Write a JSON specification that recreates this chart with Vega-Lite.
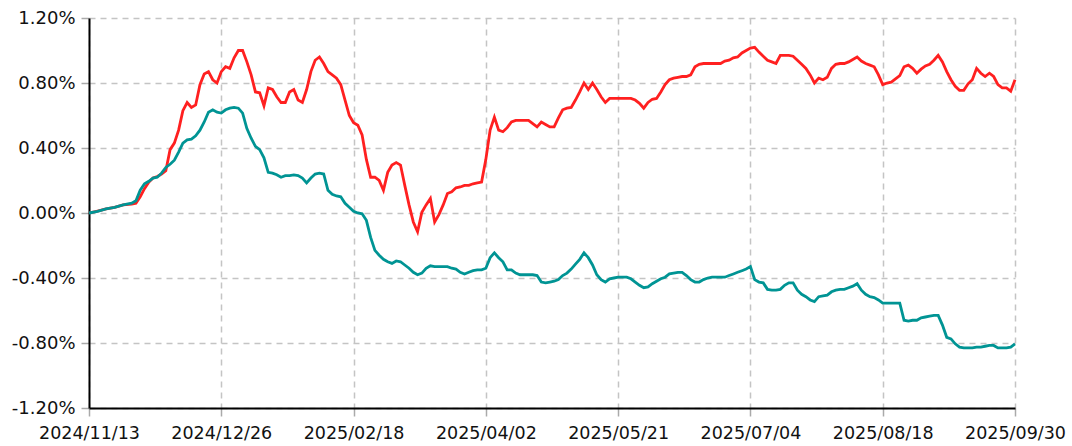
{
  "$schema": "https://vega.github.io/schema/vega-lite/v6.json",
  "width": 926,
  "height": 390,
  "autosize": {"type": "none"},
  "padding": {"left": 89, "top": 18, "right": 57, "bottom": 38},
  "background": "white",
  "config": {"view": {"stroke": null}},
  "data": {"values": [
{"i":0,"r":0,"t":0},{"i":2,"r":0.012,"t":0.01},{"i":4,"r":0.025,"t":0.025},{"i":6,"r":0.035,"t":0.035},{"i":8,"r":0.05,"t":0.05},{"i":10,"r":0.055,"t":0.06},
{"i":11,"r":0.06,"t":0.075},{"i":12,"r":0.1,"t":0.14},{"i":13,"r":0.15,"t":0.18},{"i":14,"r":0.19,"t":0.195},{"i":15,"r":0.215,"t":0.215},{"i":16,"r":0.225,"t":0.22},
{"i":17,"r":0.24,"t":0.245},{"i":18,"r":0.26,"t":0.28},{"i":19,"r":0.39,"t":0.3},{"i":20,"r":0.43,"t":0.325},{"i":21,"r":0.51,"t":0.375},{"i":22,"r":0.63,"t":0.43},
{"i":23,"r":0.68,"t":0.45},{"i":24,"r":0.65,"t":0.455},{"i":25,"r":0.665,"t":0.475},{"i":26,"r":0.79,"t":0.51},{"i":27,"r":0.855,"t":0.56},{"i":28,"r":0.87,"t":0.62},
{"i":29,"r":0.82,"t":0.635},{"i":30,"r":0.8,"t":0.62},{"i":31,"r":0.87,"t":0.615},{"i":32,"r":0.9,"t":0.635},{"i":33,"r":0.89,"t":0.645},{"i":34,"r":0.955,"t":0.65},
{"i":35,"r":1.0,"t":0.645},{"i":36,"r":1.0,"t":0.615},{"i":37,"r":0.93,"t":0.52},{"i":38,"r":0.85,"t":0.46},{"i":39,"r":0.745,"t":0.41},{"i":40,"r":0.74,"t":0.39},
{"i":41,"r":0.66,"t":0.34},{"i":42,"r":0.77,"t":0.25},{"i":43,"r":0.76,"t":0.245},{"i":44,"r":0.715,"t":0.235},{"i":45,"r":0.68,"t":0.22},{"i":46,"r":0.68,"t":0.23},
{"i":47,"r":0.745,"t":0.23},{"i":48,"r":0.76,"t":0.235},{"i":49,"r":0.695,"t":0.23},{"i":50,"r":0.68,"t":0.215},{"i":51,"r":0.76,"t":0.185},{"i":52,"r":0.87,"t":0.215},
{"i":53,"r":0.94,"t":0.24},{"i":54,"r":0.96,"t":0.245},{"i":55,"r":0.92,"t":0.24},{"i":56,"r":0.87,"t":0.14},{"i":57,"r":0.85,"t":0.115},{"i":58,"r":0.83,"t":0.105},
{"i":59,"r":0.79,"t":0.1},{"i":60,"r":0.695,"t":0.06},{"i":61,"r":0.6,"t":0.035},{"i":62,"r":0.555,"t":0.01},{"i":63,"r":0.54,"t":0.0},{"i":64,"r":0.48,"t":-0.005},
{"i":65,"r":0.33,"t":-0.045},{"i":66,"r":0.22,"t":-0.15},{"i":67,"r":0.22,"t":-0.23},{"i":68,"r":0.2,"t":-0.26},{"i":69,"r":0.14,"t":-0.285},{"i":70,"r":0.25,"t":-0.3},
{"i":71,"r":0.295,"t":-0.31},{"i":72,"r":0.31,"t":-0.295},{"i":73,"r":0.295,"t":-0.3},{"i":74,"r":0.17,"t":-0.32},{"i":75,"r":0.05,"t":-0.34},{"i":76,"r":-0.055,"t":-0.365},
{"i":77,"r":-0.115,"t":-0.38},{"i":78,"r":0.005,"t":-0.37},{"i":79,"r":0.05,"t":-0.34},{"i":80,"r":0.09,"t":-0.325},{"i":81,"r":-0.055,"t":-0.33},{"i":82,"r":-0.01,"t":-0.33},
{"i":83,"r":0.05,"t":-0.33},{"i":84,"r":0.12,"t":-0.33},{"i":85,"r":0.13,"t":-0.34},{"i":86,"r":0.155,"t":-0.345},{"i":87,"r":0.16,"t":-0.365},{"i":88,"r":0.17,"t":-0.375},
{"i":89,"r":0.17,"t":-0.365},{"i":90,"r":0.18,"t":-0.355},{"i":91,"r":0.185,"t":-0.35},{"i":92,"r":0.19,"t":-0.35},{"i":93,"r":0.33,"t":-0.34},{"i":94,"r":0.51,"t":-0.275},
{"i":95,"r":0.59,"t":-0.245},{"i":96,"r":0.51,"t":-0.275},{"i":97,"r":0.5,"t":-0.3},{"i":98,"r":0.525,"t":-0.35},{"i":99,"r":0.56,"t":-0.35},{"i":100,"r":0.57,"t":-0.37},
{"i":101,"r":0.57,"t":-0.38},{"i":102,"r":0.57,"t":-0.38},{"i":103,"r":0.57,"t":-0.38},{"i":104,"r":0.55,"t":-0.38},{"i":105,"r":0.53,"t":-0.385},{"i":106,"r":0.56,"t":-0.425},
{"i":107,"r":0.545,"t":-0.43},{"i":108,"r":0.53,"t":-0.425},{"i":109,"r":0.53,"t":-0.42},{"i":110,"r":0.585,"t":-0.41},{"i":111,"r":0.635,"t":-0.385},{"i":112,"r":0.645,"t":-0.37},
{"i":113,"r":0.65,"t":-0.345},{"i":114,"r":0.695,"t":-0.315},{"i":115,"r":0.745,"t":-0.285},{"i":116,"r":0.8,"t":-0.245},{"i":117,"r":0.76,"t":-0.275},{"i":118,"r":0.8,"t":-0.32},
{"i":119,"r":0.76,"t":-0.38},{"i":120,"r":0.715,"t":-0.41},{"i":121,"r":0.68,"t":-0.425},{"i":122,"r":0.705,"t":-0.405},{"i":123,"r":0.705,"t":-0.4},{"i":124,"r":0.705,"t":-0.395},
{"i":125,"r":0.705,"t":-0.395},{"i":126,"r":0.705,"t":-0.395},{"i":127,"r":0.705,"t":-0.405},{"i":128,"r":0.695,"t":-0.425},{"i":129,"r":0.675,"t":-0.445},{"i":130,"r":0.645,"t":-0.46},
{"i":131,"r":0.68,"t":-0.455},{"i":132,"r":0.7,"t":-0.435},{"i":133,"r":0.705,"t":-0.42},{"i":134,"r":0.745,"t":-0.405},{"i":135,"r":0.79,"t":-0.395},{"i":136,"r":0.82,"t":-0.375},
{"i":137,"r":0.83,"t":-0.37},{"i":138,"r":0.835,"t":-0.365},{"i":139,"r":0.84,"t":-0.365},{"i":140,"r":0.84,"t":-0.385},{"i":141,"r":0.85,"t":-0.41},{"i":142,"r":0.9,"t":-0.425},
{"i":143,"r":0.915,"t":-0.425},{"i":144,"r":0.92,"t":-0.41},{"i":145,"r":0.92,"t":-0.4},{"i":146,"r":0.92,"t":-0.395},{"i":147,"r":0.92,"t":-0.395},{"i":148,"r":0.92,"t":-0.395},
{"i":149,"r":0.935,"t":-0.395},{"i":150,"r":0.94,"t":-0.385},{"i":151,"r":0.955,"t":-0.375},{"i":152,"r":0.96,"t":-0.365},{"i":153,"r":0.985,"t":-0.355},{"i":154,"r":1.0,"t":-0.345},
{"i":155,"r":1.015,"t":-0.33},{"i":156,"r":1.02,"t":-0.41},{"i":157,"r":0.99,"t":-0.425},{"i":158,"r":0.965,"t":-0.43},{"i":159,"r":0.94,"t":-0.47},{"i":160,"r":0.93,"t":-0.475},
{"i":161,"r":0.92,"t":-0.475},{"i":162,"r":0.97,"t":-0.47},{"i":163,"r":0.97,"t":-0.445},{"i":164,"r":0.97,"t":-0.43},{"i":165,"r":0.965,"t":-0.43},{"i":166,"r":0.94,"t":-0.475},
{"i":167,"r":0.915,"t":-0.5},{"i":168,"r":0.89,"t":-0.515},{"i":169,"r":0.85,"t":-0.535},{"i":170,"r":0.8,"t":-0.545},{"i":171,"r":0.83,"t":-0.515},{"i":172,"r":0.82,"t":-0.51},
{"i":173,"r":0.835,"t":-0.505},{"i":174,"r":0.89,"t":-0.485},{"i":175,"r":0.915,"t":-0.475},{"i":176,"r":0.92,"t":-0.47},{"i":177,"r":0.92,"t":-0.47},{"i":178,"r":0.93,"t":-0.46},
{"i":179,"r":0.945,"t":-0.45},{"i":180,"r":0.96,"t":-0.435},{"i":181,"r":0.935,"t":-0.475},{"i":182,"r":0.92,"t":-0.5},{"i":183,"r":0.91,"t":-0.515},{"i":184,"r":0.9,"t":-0.52},
{"i":185,"r":0.85,"t":-0.535},{"i":186,"r":0.79,"t":-0.555},{"i":187,"r":0.8,"t":-0.555},{"i":188,"r":0.805,"t":-0.555},{"i":189,"r":0.825,"t":-0.555},{"i":190,"r":0.845,"t":-0.555},
{"i":191,"r":0.9,"t":-0.66},{"i":192,"r":0.91,"t":-0.665},{"i":193,"r":0.89,"t":-0.66},{"i":194,"r":0.86,"t":-0.66},{"i":195,"r":0.885,"t":-0.645},{"i":196,"r":0.905,"t":-0.64},
{"i":197,"r":0.915,"t":-0.635},{"i":198,"r":0.94,"t":-0.63},{"i":199,"r":0.97,"t":-0.63},{"i":200,"r":0.93,"t":-0.69},{"i":201,"r":0.87,"t":-0.765},{"i":202,"r":0.82,"t":-0.775},
{"i":203,"r":0.78,"t":-0.805},{"i":204,"r":0.755,"t":-0.825},{"i":205,"r":0.755,"t":-0.83},{"i":206,"r":0.795,"t":-0.83},{"i":207,"r":0.82,"t":-0.83},{"i":208,"r":0.89,"t":-0.825},
{"i":209,"r":0.86,"t":-0.825},{"i":210,"r":0.84,"t":-0.82},{"i":211,"r":0.86,"t":-0.815},{"i":212,"r":0.84,"t":-0.815},{"i":213,"r":0.79,"t":-0.83},{"i":214,"r":0.77,"t":-0.83},
{"i":215,"r":0.77,"t":-0.83},{"i":216,"r":0.75,"t":-0.825},{"i":217,"r":0.82,"t":-0.805}
  ]},
  "transform": [{"fold": ["r", "t"], "as": ["series", "value"]}],
  "mark": {"type": "line", "strokeWidth": 2.8, "interpolate": "linear"},
  "encoding": {
    "x": {
      "field": "i", "type": "quantitative",
      "scale": {"domain": [0, 217], "nice": false, "zero": false},
      "axis": {
        "title": null,
        "values": [0, 31, 62, 93, 124, 155, 186, 217],
        "labelExpr": "['2024/11/13','2024/12/26','2025/02/18','2025/04/02','2025/05/21','2025/07/04','2025/08/18','2025/09/30'][round(datum.value/31)]",
        "labelFont": "DejaVu Sans", "labelFontSize": 17.5, "labelColor": "#111111",
        "labelPadding": 8, "labelFlush": false, "labelOverlap": false,
        "domainColor": "#000000", "domainWidth": 2,
        "tickColor": "#aaaaaa", "tickSize": 8, "tickWidth": 1.5,
        "grid": true, "gridColor": "#c4c4c4", "gridDash": [6, 5], "gridWidth": 1.5
      }
    },
    "y": {
      "field": "value", "type": "quantitative",
      "scale": {"domain": [-1.2, 1.2], "nice": false},
      "axis": {
        "title": null,
        "values": [-1.2, -0.8, -0.4, 0, 0.4, 0.8, 1.2],
        "labelExpr": "(datum.value < -0.0001 ? '-' : '') + format(abs(datum.value), '.2f') + '%'",
        "labelFont": "DejaVu Sans", "labelFontSize": 18, "labelColor": "#111111",
        "labelPadding": 6, "labelFlush": false, "labelOverlap": false,
        "domainColor": "#000000", "domainWidth": 2,
        "tickColor": "#aaaaaa", "tickSize": 8, "tickWidth": 1.5,
        "grid": true, "gridColor": "#c4c4c4", "gridDash": [6, 5], "gridWidth": 1.5
      }
    },
    "color": {
      "field": "series", "type": "nominal",
      "scale": {"domain": ["r", "t"], "range": ["#ff2020", "#009494"]},
      "legend": null
    }
  }
}
